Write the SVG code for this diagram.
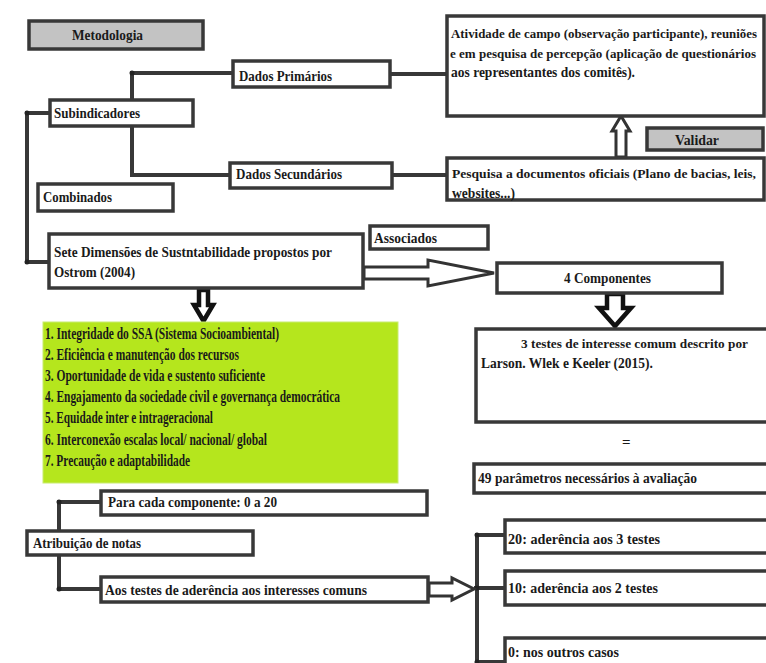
<svg xmlns="http://www.w3.org/2000/svg" width="766" height="663" viewBox="0 0 766 663">
<defs>
<style>
.box{fill:#fff;stroke:#383838;stroke-width:3.5}
.gray{fill:#c3c3c3;stroke:#383838;stroke-width:3.5}
.green{fill:#b5e61d;stroke:#c8ec70;stroke-width:1}
.ln{fill:none;stroke:#383838;stroke-width:4}
.dot{fill:#222}
.arr{fill:#fff;stroke:#333;stroke-width:3;stroke-linejoin:miter}
.arrk{fill:#fff;stroke:#111;stroke-width:4.5;stroke-linejoin:miter}
text{font-family:'Liberation Serif','DejaVu Serif',serif;font-weight:700;font-size:15px;fill:#1a1a1a}
.l{font-size:16px}
.s{font-size:13.2px}
</style>
</defs>
<rect width="766" height="663" fill="#fff"/>
<g id="connectors">
<polyline class="ln" points="233,73 132,73 132,99"/>
<polyline class="ln" points="132,126 132,175 230,175"/>
<polyline class="ln" points="50,113 27,113 27,262 49,262"/>
<line class="ln" x1="390" y1="74" x2="447" y2="74"/>
<line class="ln" x1="392" y1="175" x2="447" y2="175"/>
<polyline class="ln" points="100,502 59,502 59,530"/>
<polyline class="ln" points="59,555 59,589 100,589"/>
<polyline class="ln" points="505,535 477,535 477,663"/>
<line class="ln" x1="474" y1="588" x2="505" y2="588"/>
<line class="ln" x1="477" y1="662" x2="505" y2="662"/>
<circle class="dot" cx="132" cy="73" r="2.5"/>
<circle class="dot" cx="27" cy="113" r="2.5"/>
<circle class="dot" cx="27" cy="262" r="2.5"/>
<circle class="dot" cx="59" cy="502" r="2.5"/>
<circle class="dot" cx="59" cy="589" r="2.5"/>
<circle class="dot" cx="477" cy="535" r="2.5"/>
<circle class="dot" cx="477" cy="588" r="2.5"/>
<circle class="dot" cx="477" cy="662" r="2.5"/>
<circle class="dot" cx="447" cy="74" r="2"/>
<circle class="dot" cx="447" cy="175" r="2"/>
<polygon class="arr" points="616,157 616,131 612,131 621,116 630,131 626,131 626,157"/>
<polygon class="arr" points="364,267 428,267 428,260 494,273 428,286 428,279 364,279"/>
<polygon class="arrk" points="607,294 607,308 599,308 615,326 631,308 623,308 623,294"/>
<polygon class="arrk" points="199,290 199,305 194,305 203.5,321 213,305 208,305 208,290"/>
<polygon class="arr" points="429,583 452,583 452,578 474,589 452,600 452,596 429,596"/>
</g>
<g id="metodologia"><rect class="gray" x="29" y="21" width="174" height="28"/><text x="72" y="40" textLength="71" lengthAdjust="spacingAndGlyphs">Metodologia</text></g>
<g id="dados-primarios"><rect class="box" x="233" y="61" width="157" height="26"/><text x="239" y="81" textLength="93" lengthAdjust="spacingAndGlyphs">Dados Primários</text></g>
<g id="subindicadores"><rect class="box" x="50" y="100" width="143" height="26"/><text x="54" y="118" textLength="86" lengthAdjust="spacingAndGlyphs">Subindicadores</text></g>
<g id="dados-secundarios"><rect class="box" x="230" y="163" width="162" height="25"/><text x="236" y="179" textLength="106" lengthAdjust="spacingAndGlyphs">Dados Secundários</text></g>
<g id="combinados"><rect class="box" x="38" y="184" width="135" height="27"/><text x="43" y="202" textLength="69" lengthAdjust="spacingAndGlyphs">Combinados</text></g>
<g id="atividade"><rect class="box" x="447" y="16" width="317" height="100"/>
<text class="s" x="451" y="38" textLength="306" lengthAdjust="spacingAndGlyphs">Atividade de campo (observação participante), reuniões</text>
<text class="s" x="450" y="58" textLength="306" lengthAdjust="spacingAndGlyphs">e em pesquisa de percepção (aplicação de questionários</text>
<text x="451" y="77" textLength="184" lengthAdjust="spacingAndGlyphs">aos representantes dos comitês).</text></g>
<g id="validar"><rect class="gray" x="647" y="128" width="116" height="22"/><text x="675" y="145" textLength="44" lengthAdjust="spacingAndGlyphs">Validar</text></g>
<g id="pesquisa"><rect class="box" x="447" y="158" width="317" height="42"/>
<text class="s" x="452" y="178" textLength="304" lengthAdjust="spacingAndGlyphs">Pesquisa a documentos oficiais (Plano de bacias, leis,</text>
<text x="452" y="198" textLength="63" lengthAdjust="spacingAndGlyphs">websites...)</text></g>
<g id="sete-dimensoes"><rect class="box" x="49" y="234" width="314" height="54"/>
<text x="54" y="257" textLength="278" lengthAdjust="spacingAndGlyphs">Sete Dimensões de Sustntabilidade propostos por</text>
<text x="54" y="277" textLength="81" lengthAdjust="spacingAndGlyphs">Ostrom (2004)</text></g>
<g id="associados"><rect class="box" x="370" y="226" width="118" height="23"/><text x="374" y="243" textLength="63" lengthAdjust="spacingAndGlyphs">Associados</text></g>
<g id="componentes"><rect class="box" x="497" y="263" width="225" height="30"/><text x="564" y="283" textLength="87" lengthAdjust="spacingAndGlyphs">4 Componentes</text></g>
<g id="dimensoes-lista"><rect class="green" x="43" y="322" width="355" height="161"/>
<text class="l" x="45" y="338.5" textLength="234" lengthAdjust="spacingAndGlyphs">1. Integridade do SSA (Sistema Socioambiental)</text>
<text class="l" x="45" y="359.5" textLength="194" lengthAdjust="spacingAndGlyphs">2. Eficiência e manutenção dos recursos</text>
<text class="l" x="45" y="380.5" textLength="220" lengthAdjust="spacingAndGlyphs">3. Oportunidade de vida e sustento suficiente</text>
<text class="l" x="45" y="401.5" textLength="295" lengthAdjust="spacingAndGlyphs">4. Engajamento da sociedade civil e governança democrática</text>
<text class="l" x="45" y="422.5" textLength="168" lengthAdjust="spacingAndGlyphs">5. Equidade inter e intrageracional</text>
<text class="l" x="45" y="444.5" textLength="222" lengthAdjust="spacingAndGlyphs">6. Interconexão escalas local/ nacional/ global</text>
<text class="l" x="45" y="465.5" textLength="145" lengthAdjust="spacingAndGlyphs">7. Precaução e adaptabilidade</text></g>
<g id="testes"><rect class="box" x="476" y="329" width="296" height="93"/>
<text class="s" x="521" y="348" textLength="227" lengthAdjust="spacingAndGlyphs">3 testes de interesse comum descrito por</text>
<text x="481" y="368" textLength="172" lengthAdjust="spacingAndGlyphs">Larson. Wlek e Keeler (2015).</text></g>
<g id="igual"><text x="622" y="447">=</text></g>
<g id="parametros"><rect class="box" x="474" y="464" width="298" height="29"/><text x="478" y="483" textLength="219" lengthAdjust="spacingAndGlyphs">49 parâmetros necessários à avaliação</text></g>
<g id="para-cada"><rect class="box" x="101" y="491" width="326" height="24"/><text x="108" y="507" textLength="169" lengthAdjust="spacingAndGlyphs">Para cada componente: 0 a 20</text></g>
<g id="atribuicao"><rect class="box" x="27" y="531" width="226" height="24"/><text x="33" y="548" textLength="108" lengthAdjust="spacingAndGlyphs">Atribuição de notas</text></g>
<g id="aos-testes"><rect class="box" x="101" y="577" width="327" height="25"/><text x="105" y="595" textLength="262" lengthAdjust="spacingAndGlyphs">Aos testes de aderência aos interesses comuns</text></g>
<g id="nota-20"><rect class="box" x="505" y="520" width="267" height="33"/><text x="508" y="544" textLength="152" lengthAdjust="spacingAndGlyphs">20: aderência aos 3 testes</text></g>
<g id="nota-10"><rect class="box" x="505" y="571" width="267" height="34"/><text x="508" y="593" textLength="150" lengthAdjust="spacingAndGlyphs">10: aderência aos 2 testes</text></g>
<g id="nota-0"><rect class="box" x="505" y="638" width="267" height="34"/><text x="508" y="657" textLength="111" lengthAdjust="spacingAndGlyphs">0: nos outros casos</text></g>
</svg>
